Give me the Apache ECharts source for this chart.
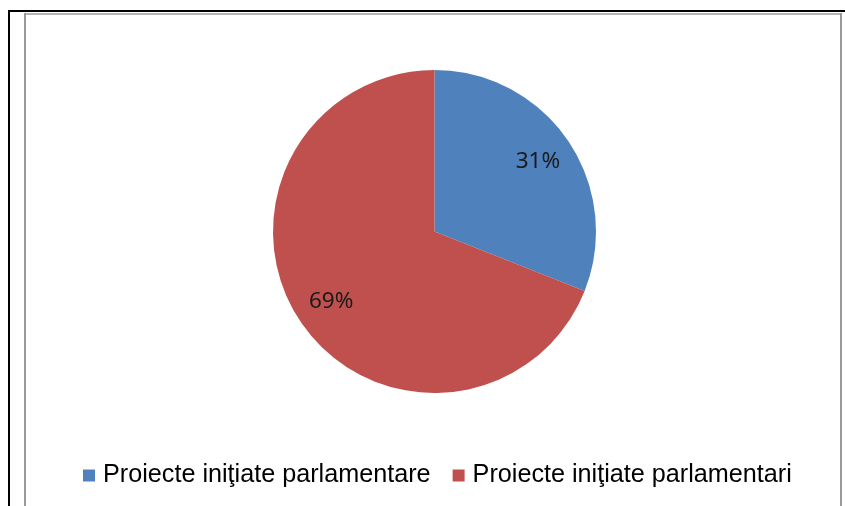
<!DOCTYPE html>
<html>
<head>
<meta charset="utf-8">
<script src="https://cdn.jsdelivr.net/npm/echarts@6/dist/echarts.min.js"></script>
<style>html,body{margin:0;padding:0;background:#fff;}#c{width:845px;height:506px;}</style>
</head>
<body>
<div id="c"></div>
<script>
var categories = ['Proiecte iniţiate parlamentare', 'Proiecte iniţiate parlamentari'];
var values = [31, 69];
var colors = ['#4F81BD', '#C0504D'];

var data = categories.map(function (n, i) { return { name: n, value: values[i], itemStyle: { color: colors[i] } }; });
var chart = echarts.init(document.getElementById('c'), null, { renderer: 'canvas' });
chart.setOption({
  animation: false,
  backgroundColor: '#fff',
  graphic: [
    { type: 'rect', shape: { x: 8, y: 10, width: 2, height: 500 }, style: { fill: '#000' } },
    { type: 'rect', shape: { x: 8, y: 10, width: 845, height: 2 }, style: { fill: '#000' } },
    { type: 'rect', shape: { x: 24, y: 13, width: 818, height: 2 }, style: { fill: '#b4b4b4' } },
    { type: 'rect', shape: { x: 24, y: 13, width: 2, height: 500 }, style: { fill: '#999' } },
    { type: 'rect', shape: { x: 840, y: 13, width: 2, height: 500 }, style: { fill: '#999' } }
  ],
  legend: {
    data: categories,
    left: 78,
    top: 458,
    itemWidth: 12,
    itemHeight: 12,
    itemGap: 22,
    icon: 'rect',
    textStyle: { fontFamily: 'Liberation Sans, Arial', fontSize: 25.2, color: '#000', padding: [0, 0, 0, 3] }
  },
  series: [
    {
      type: 'pie',
      center: [434.5, 231.5],
      radius: [0, 161.5],
      startAngle: 90,
      clockwise: true,
      label: { show: false },
      labelLine: { show: false },
      silent: true,
      data: data
    },
    {
      type: 'pie',
      center: [434.5, 231.5],
      radius: [0, 244],
      startAngle: 90,
      clockwise: true,
      silent: true,
      z: 5,
      itemStyle: { color: 'rgba(0,0,0,0)', opacity: 0 },
      label: {
        show: true,
        position: 'inside',
        formatter: '{d}%',
        fontFamily: 'Noto Sans',
        fontSize: 22.5,
        color: '#1a1a1a',
        opacity: 1
      },
      labelLine: { show: false },
      data: categories.map(function (n, i) { return { name: n, value: values[i] }; })
    }
  ]
});
</script>
</body>
</html>
